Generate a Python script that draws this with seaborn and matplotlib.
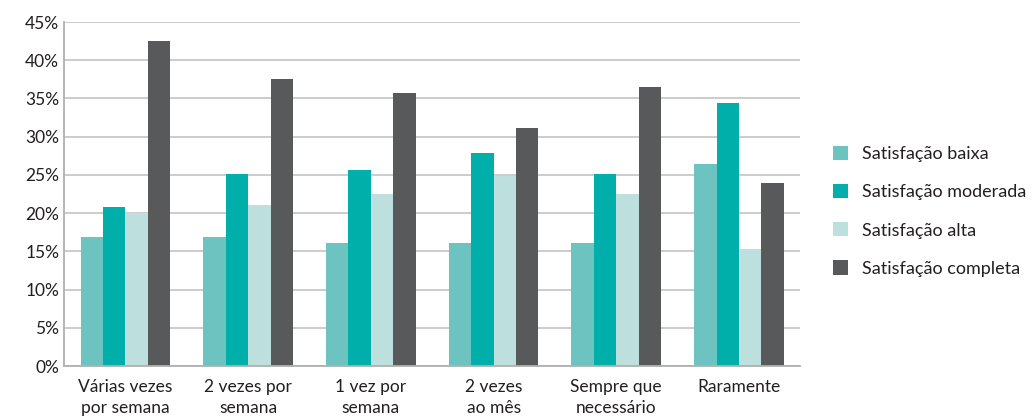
import pandas as pd
import numpy as np
import matplotlib.pyplot as plt
import seaborn as sns
from matplotlib.ticker import PercentFormatter

categories = ['Várias vezes\npor semana', '2 vezes por\nsemana', '1 vez por\nsemana',
              '2 vezes\nao mês', 'Sempre que\nnecessário', 'Raramente']
series = ['Satisfação baixa', 'Satisfação moderada', 'Satisfação alta', 'Satisfação completa']
baixa = [16.9, 16.9, 16.1, 16.1, 16.1, 26.4]
moderada = [20.8, 25.1, 25.6, 27.9, 25.1, 34.4]
alta = [20.0, 21.1, 22.5, 24.9, 22.5, 15.3]
completa = [42.5, 37.6, 35.7, 31.2, 36.5, 24.0]
colors = ['#6cc3bf', '#00afa9', '#bddfde', '#58595b']

rows = []
for name, vals in zip(series, [baixa, moderada, alta, completa]):
    for cat, v in zip(categories, vals):
        rows.append({'cat': cat, 'serie': name, 'valor': v})
df = pd.DataFrame(rows)

sns.set_style('white')
plt.rcParams['font.family'] = ['Lato', 'DejaVu Sans']

fig = plt.figure(figsize=(10.34, 4.16), dpi=100)
ax = fig.add_axes([0.062, 0.12, 0.712, 0.827])

sns.barplot(data=df, x='cat', y='valor', hue='serie', palette=colors,
            width=0.73, gap=0.0, saturation=1, ax=ax, edgecolor='none')

ax.set_ylim(0, 45)
ax.set_yticks(np.arange(0, 46, 5))
ax.yaxis.set_major_formatter(PercentFormatter(decimals=0))
ax.yaxis.grid(True, color='#c8c8c8', linewidth=1.3)
ax.set_axisbelow(True)
ax.set_xlabel('')
ax.set_ylabel('')
for s in ['top', 'right']:
    ax.spines[s].set_visible(False)
for s in ['left', 'bottom']:
    ax.spines[s].set_color('#b0b0b0')
    ax.spines[s].set_linewidth(1.3)
ax.tick_params(axis='both', length=0, labelsize=12.5, colors='#231f20')
ax.tick_params(axis='x', pad=9)
for lab in ax.get_xticklabels():
    lab.set_linespacing(1.45)

leg = ax.legend(loc='center left', bbox_to_anchor=(1.022, 0.45), frameon=False,
                fontsize=13, labelspacing=1.2, handlelength=0.85, handleheight=0.85,
                handletextpad=0.75)
for t in leg.get_texts():
    t.set_color('#231f20')

fig.savefig('out.png', dpi=100)
